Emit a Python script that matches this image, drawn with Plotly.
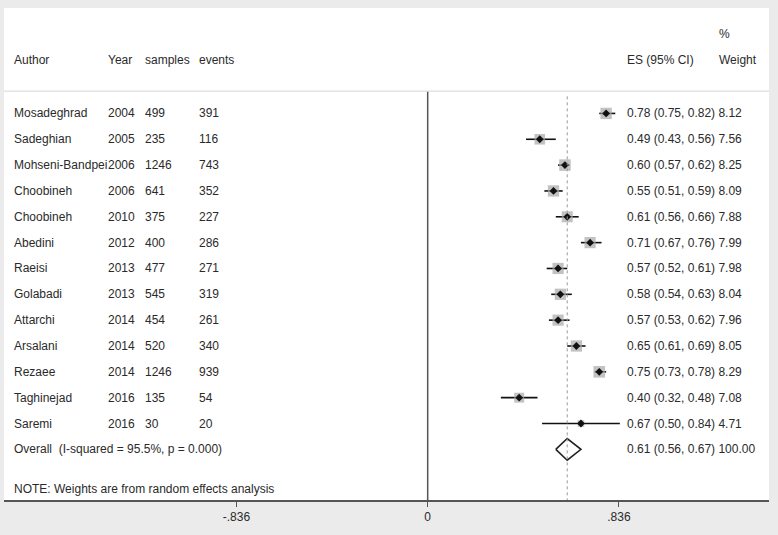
import plotly.graph_objects as go

# ---------------- data ----------------
authors = ["Mosadeghrad", "Sadeghian", "Mohseni-Bandpei", "Choobineh", "Choobineh",
           "Abedini", "Raeisi", "Golabadi", "Attarchi", "Arsalani", "Rezaee",
           "Taghinejad", "Saremi"]
years = [2004, 2005, 2006, 2006, 2010, 2012, 2013, 2013, 2014, 2014, 2014, 2016, 2016]
samples = [499, 235, 1246, 641, 375, 400, 477, 545, 454, 520, 1246, 135, 30]
events = [391, 116, 743, 352, 227, 286, 271, 319, 261, 340, 939, 54, 20]
es = [0.78, 0.49, 0.60, 0.55, 0.61, 0.71, 0.57, 0.58, 0.57, 0.65, 0.75, 0.40, 0.67]
ci_low = [0.75, 0.43, 0.57, 0.51, 0.56, 0.67, 0.52, 0.54, 0.53, 0.61, 0.73, 0.32, 0.50]
ci_high = [0.82, 0.56, 0.62, 0.59, 0.66, 0.76, 0.61, 0.63, 0.62, 0.69, 0.78, 0.48, 0.84]
weights = [8.12, 7.56, 8.25, 8.09, 7.88, 7.99, 7.98, 8.04, 7.96, 8.05, 8.29, 7.08, 4.71]

overall_es, overall_low, overall_high, overall_weight = 0.61, 0.56, 0.67, 100.00
overall_label = "Overall  (I-squared = 95.5%, p = 0.000)"
note_label = "NOTE: Weights are from random effects analysis"

tick_vals = [-0.836, 0, 0.836]
tick_text = ["-.836", "0", ".836"]

# ---------------- layout constants ----------------
FONT = "Liberation Sans, Arial, sans-serif"
TXT = "#2a2a2a"
FS = 12
X_AUTHOR, X_YEAR, X_SAMPLES, X_EVENTS = -1.817, -1.406, -1.243, -1.008
X_ES, X_W = 0.864, 1.264
ROW_HEADER, ROW_PCT, ROW_SEP = -1.05, -2.07, 0.14
n = len(authors)
rows = list(range(1, n + 1))
ROW_OVERALL = n + 1
ROW_NOTE = n + 2.55
Y_BOTTOM, Y_TOP = 15.96, -3.08
X_MIN, X_MAX = -1.852, 1.492

fig = go.Figure()

# CI lines
for r, lo, hi in zip(rows, ci_low, ci_high):
    fig.add_trace(go.Scatter(x=[lo, hi], y=[r, r], mode="lines",
                             line=dict(color="#111111", width=1.6),
                             hoverinfo="skip", showlegend=False))
# weight boxes
fig.add_trace(go.Scatter(x=es, y=rows, mode="markers",
                         marker=dict(symbol="square", size=[1.4 * w for w in weights],
                                     color="#a8a8a8", line=dict(width=0)),
                         hoverinfo="skip", showlegend=False))
# point estimates
fig.add_trace(go.Scatter(x=es, y=rows, mode="markers",
                         marker=dict(symbol="diamond", size=6, color="#111111"),
                         hoverinfo="skip", showlegend=False))
# overall diamond
h = 0.42
fig.add_trace(go.Scatter(
    x=[overall_low, overall_es, overall_high, overall_es, overall_low],
    y=[ROW_OVERALL, ROW_OVERALL - h, ROW_OVERALL, ROW_OVERALL + h, ROW_OVERALL],
    mode="lines", line=dict(color="#222222", width=1.6),
    hoverinfo="skip", showlegend=False))

# reference lines
fig.add_shape(type="line", xref="x", yref="y", x0=0, x1=0, y0=ROW_SEP, y1=Y_BOTTOM,
              line=dict(color="#555555", width=1.5))
fig.add_shape(type="line", xref="x", yref="y", x0=overall_es, x1=overall_es,
              y0=ROW_SEP + 0.2, y1=Y_BOTTOM, line=dict(color="#999999", width=1, dash="3px,3px"))
fig.add_shape(type="line", xref="paper", yref="y", x0=0, x1=1, y0=ROW_SEP, y1=ROW_SEP,
              line=dict(color="#dddddd", width=1.2))

def txt(x, y, s):
    fig.add_annotation(x=x, y=y, xref="x", yref="y", text=s, showarrow=False,
                       xanchor="left", yanchor="middle",
                       font=dict(family=FONT, size=FS, color=TXT))

# headers
txt(X_AUTHOR, ROW_HEADER, "Author")
txt(X_YEAR, ROW_HEADER, "Year")
txt(X_SAMPLES, ROW_HEADER, "samples")
txt(X_EVENTS, ROW_HEADER, "events")
txt(X_ES, ROW_HEADER, "ES (95% CI)")
txt(X_W, ROW_HEADER, "Weight")
txt(X_W, ROW_PCT, "%")

for r, a, yr, s, e, v, lo, hi, w in zip(rows, authors, years, samples, events,
                                        es, ci_low, ci_high, weights):
    txt(X_AUTHOR, r, a)
    txt(X_YEAR, r, str(yr))
    txt(X_SAMPLES, r, str(s))
    txt(X_EVENTS, r, str(e))
    txt(X_ES, r, f"{v:.2f} ({lo:.2f}, {hi:.2f}) {w:.2f}")

txt(X_AUTHOR, ROW_OVERALL, overall_label)
txt(X_ES, ROW_OVERALL, f"{overall_es:.2f} ({overall_low:.2f}, {overall_high:.2f}) {overall_weight:.2f}")
txt(X_AUTHOR, ROW_NOTE, note_label)

fig.update_layout(
    width=778, height=535,
    margin=dict(l=4, r=9, t=8, b=35),
    paper_bgcolor="#ebebeb", plot_bgcolor="white",
    showlegend=False,
    xaxis=dict(range=[X_MIN, X_MAX], tickvals=tick_vals, ticktext=tick_text,
               showgrid=False, zeroline=False, showline=True, linecolor="#555555",
               linewidth=1.5, ticks="outside", ticklen=5, tickcolor="#555555",
               tickfont=dict(family=FONT, size=FS, color=TXT), fixedrange=True),
    yaxis=dict(range=[Y_BOTTOM, Y_TOP], visible=False, showgrid=False,
               zeroline=False, fixedrange=True),
)

fig.write_html("out.html", config={"displayModeBar": False},
               post_script="document.body.style.margin='0';document.body.style.overflow='hidden';")
